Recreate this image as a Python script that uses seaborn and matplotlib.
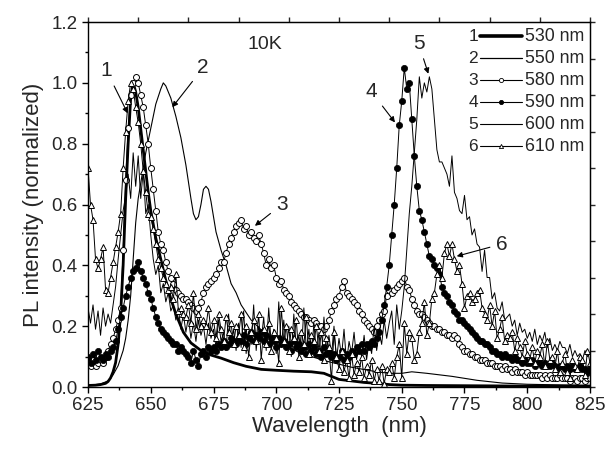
import numpy as np
import pandas as pd
import matplotlib
matplotlib.use("Agg")
import matplotlib.pyplot as plt
import seaborn as sns
from matplotlib.lines import Line2D

sns.set_style("ticks")
plt.rcParams["font.family"] = ["Liberation Sans", "DejaVu Sans"]

# ---------------- data ----------------
# smooth curves (own wavelength samples)
WL1 = [625, 628, 630, 631, 632, 633, 634, 635, 636, 637, 638, 639, 640, 641, 642, 643, 644,
       645, 646, 647, 648, 649, 650, 652, 654, 656, 658, 660, 663, 666, 670, 674, 678, 683,
       688, 694, 700, 707, 714, 719, 722, 725, 730, 735, 740, 745, 750, 760, 780, 800, 825]
V1 = [0.005, 0.006, 0.008, 0.01, 0.012, 0.018, 0.03, 0.05, 0.08, 0.14, 0.24, 0.40, 0.62, 0.80,
      0.95, 1.00, 0.97, 0.92, 0.85, 0.78, 0.71, 0.64, 0.58, 0.49, 0.42, 0.35, 0.29, 0.24, 0.18,
      0.145, 0.12, 0.105, 0.095, 0.08, 0.068, 0.058, 0.055, 0.052, 0.05, 0.045, 0.035, 0.025,
      0.02, 0.015, 0.012, 0.008, 0.006, 0.005, 0.004, 0.003, 0.003]

WL2 = [625, 630, 633, 635, 637, 639, 640, 641, 642, 643, 644, 645, 646, 648, 650, 652, 654, 655,
       656, 658, 660, 662, 664, 666, 667, 668, 669, 670, 671, 672, 673, 674, 676, 678, 680, 682,
       684, 686, 690, 695, 700, 710, 720, 730, 740, 745, 750, 754, 760, 770, 780, 790, 800, 825]
V2 = [0.005, 0.01, 0.02, 0.04, 0.07, 0.12, 0.16, 0.22, 0.30, 0.42, 0.54, 0.62, 0.67, 0.77, 0.85,
      0.93, 0.98, 1.00, 0.99, 0.95, 0.89, 0.82, 0.73, 0.62, 0.57, 0.55, 0.56, 0.60, 0.65, 0.66,
      0.65, 0.61, 0.51, 0.45, 0.40, 0.34, 0.31, 0.27, 0.22, 0.18, 0.15, 0.11, 0.085, 0.065,
      0.05, 0.045, 0.045, 0.05, 0.045, 0.035, 0.022, 0.013, 0.009, 0.005]

# 1 nm sampled spectra, 625 ... 825 nm
WL = np.arange(625, 826)

V3 = [0.08, 0.07, 0.09, 0.07, 0.08, 0.09, 0.08, 0.10, 0.12, 0.14,
      0.16, 0.19, 0.22, 0.26, 0.45, 0.68, 0.85, 0.96, 1.00, 1.02,
      1.00, 0.96, 0.92, 0.86, 0.80, 0.72, 0.65, 0.58, 0.51, 0.47,
      0.45, 0.41, 0.38, 0.36, 0.34, 0.32, 0.31, 0.30, 0.29, 0.29,
      0.28, 0.27, 0.26, 0.25, 0.26, 0.28, 0.31, 0.33, 0.34, 0.35,
      0.36, 0.37, 0.39, 0.41, 0.41, 0.44, 0.47, 0.49, 0.51, 0.53,
      0.54, 0.55, 0.52, 0.53, 0.50, 0.51, 0.49, 0.48, 0.50, 0.47,
      0.44, 0.40, 0.42, 0.39, 0.40, 0.36, 0.34, 0.35, 0.32, 0.31,
      0.30, 0.28, 0.27, 0.26, 0.25, 0.24, 0.23, 0.23, 0.22, 0.21,
      0.22, 0.21, 0.20, 0.20, 0.19, 0.20, 0.22, 0.25, 0.27, 0.29,
      0.30, 0.33, 0.35, 0.31, 0.30, 0.29, 0.28, 0.27, 0.25, 0.24,
      0.22, 0.21, 0.20, 0.19, 0.18, 0.20, 0.22, 0.24, 0.25, 0.30,
      0.32, 0.31, 0.32, 0.33, 0.34, 0.35, 0.36, 0.33, 0.32, 0.29,
      0.27, 0.25, 0.24, 0.24, 0.23, 0.22, 0.21, 0.20, 0.20, 0.19,
      0.19, 0.18, 0.18, 0.17, 0.17, 0.16, 0.17, 0.16, 0.14, 0.13,
      0.12, 0.12, 0.11, 0.11, 0.10, 0.10, 0.09, 0.09, 0.09, 0.08,
      0.08, 0.08, 0.07, 0.07, 0.07, 0.06, 0.07, 0.06, 0.06, 0.05,
      0.06, 0.05, 0.05, 0.05, 0.04, 0.05, 0.04, 0.04, 0.04, 0.04,
      0.04, 0.03, 0.04, 0.03, 0.04, 0.03, 0.03, 0.03, 0.04, 0.03,
      0.03, 0.03, 0.02, 0.03, 0.03, 0.02, 0.03, 0.03, 0.02, 0.03,
      0.03]

V4 = [0.10, 0.08, 0.11, 0.09, 0.12, 0.10, 0.09, 0.11, 0.10, 0.12,
      0.13, 0.15, 0.19, 0.23, 0.26, 0.30, 0.33, 0.36, 0.38, 0.39,
      0.41, 0.38, 0.36, 0.34, 0.31, 0.29, 0.26, 0.23, 0.21, 0.19,
      0.18, 0.17, 0.16, 0.15, 0.14, 0.14, 0.12, 0.13, 0.12, 0.11,
      0.10, 0.08, 0.12, 0.09, 0.07, 0.11, 0.12, 0.10, 0.13, 0.12,
      0.13, 0.12, 0.14, 0.13, 0.15, 0.13, 0.14, 0.16, 0.15, 0.14,
      0.16, 0.15, 0.17, 0.14, 0.16, 0.18, 0.15, 0.17, 0.16, 0.18,
      0.15, 0.17, 0.14, 0.16, 0.15, 0.13, 0.16, 0.14, 0.15, 0.13,
      0.14, 0.12, 0.15, 0.13, 0.14, 0.12, 0.13, 0.11, 0.14, 0.12,
      0.13, 0.11, 0.12, 0.10, 0.13, 0.11, 0.12, 0.10, 0.11, 0.09,
      0.10, 0.12, 0.09, 0.11, 0.10, 0.12, 0.11, 0.13, 0.12, 0.14,
      0.12, 0.14, 0.13, 0.15, 0.14, 0.16, 0.18, 0.22, 0.27, 0.33,
      0.40, 0.50, 0.60, 0.72, 0.86, 0.94, 1.05, 0.98, 1.00, 0.88,
      0.76, 0.66, 0.58, 0.55, 0.51, 0.47, 0.43, 0.42, 0.40, 0.39,
      0.37, 0.33, 0.31, 0.30, 0.28, 0.27, 0.25, 0.24, 0.22, 0.22,
      0.21, 0.20, 0.19, 0.18, 0.17, 0.16, 0.15, 0.15, 0.14, 0.14,
      0.13, 0.12, 0.12, 0.11, 0.11, 0.10, 0.11, 0.10, 0.10, 0.09,
      0.10, 0.09, 0.09, 0.08, 0.09, 0.08, 0.08, 0.09, 0.07, 0.08,
      0.08, 0.07, 0.08, 0.07, 0.07, 0.08, 0.07, 0.06, 0.07, 0.07,
      0.06, 0.07, 0.06, 0.07, 0.06, 0.06, 0.07, 0.06, 0.06, 0.05,
      0.06]

V5 = [0.26, 0.21, 0.27, 0.19, 0.25, 0.17, 0.26, 0.20, 0.24, 0.21,
      0.27, 0.33, 0.42, 0.50, 0.58, 0.63, 0.70, 0.62, 0.77, 0.66,
      0.76, 0.62, 0.71, 0.57, 0.60, 0.50, 0.42, 0.37, 0.40, 0.31,
      0.34, 0.28, 0.31, 0.25, 0.27, 0.22, 0.26, 0.19, 0.24, 0.18,
      0.23, 0.16, 0.21, 0.15, 0.22, 0.17, 0.20, 0.14, 0.21, 0.16,
      0.19, 0.13, 0.22, 0.15, 0.18, 0.12, 0.24, 0.14, 0.19, 0.12,
      0.21, 0.13, 0.25, 0.11, 0.18, 0.14, 0.27, 0.12, 0.20, 0.15,
      0.23, 0.12, 0.26, 0.14, 0.19, 0.11, 0.28, 0.13, 0.22, 0.12,
      0.20, 0.10, 0.24, 0.13, 0.17, 0.11, 0.26, 0.12, 0.19, 0.10,
      0.21, 0.11, 0.18, 0.09, 0.23, 0.12, 0.17, 0.10, 0.20, 0.09,
      0.16, 0.10, 0.19, 0.08, 0.15, 0.11, 0.18, 0.09, 0.14, 0.10,
      0.17, 0.09, 0.15, 0.11, 0.20, 0.12, 0.18, 0.14, 0.22, 0.16,
      0.21, 0.25, 0.14, 0.27, 0.19, 0.25, 0.33, 0.45, 0.57, 0.66,
      0.77, 0.88, 1.02, 0.95, 1.00, 0.97, 1.02, 0.98, 0.88, 0.78,
      0.74, 0.74, 0.72, 0.70, 0.66, 0.76, 0.64, 0.62, 0.58, 0.57,
      0.63, 0.55, 0.56, 0.50, 0.52, 0.47, 0.46, 0.38, 0.45, 0.36,
      0.36, 0.29, 0.31, 0.26, 0.25, 0.28, 0.22, 0.23, 0.24, 0.20,
      0.22, 0.17, 0.21, 0.18, 0.19, 0.16, 0.18, 0.15, 0.19, 0.14,
      0.17, 0.15, 0.18, 0.13, 0.16, 0.12, 0.14, 0.12, 0.15, 0.13,
      0.13, 0.11, 0.14, 0.10, 0.12, 0.10, 0.11, 0.09, 0.12, 0.10,
      0.11]

V6 = [0.72, 0.60, 0.55, 0.42, 0.39, 0.42, 0.46, 0.32, 0.31, 0.36,
      0.41, 0.46, 0.51, 0.57, 0.72, 0.84, 0.94, 1.00, 0.98, 0.92,
      0.87, 0.80, 0.71, 0.64, 0.57, 0.56, 0.52, 0.47, 0.42, 0.39,
      0.36, 0.34, 0.32, 0.33, 0.29, 0.37, 0.25, 0.26, 0.24, 0.23,
      0.27, 0.21, 0.31, 0.19, 0.24, 0.20, 0.22, 0.20, 0.26, 0.18,
      0.22, 0.16, 0.24, 0.19, 0.15, 0.23, 0.18, 0.21, 0.14, 0.20,
      0.17, 0.24, 0.13, 0.20, 0.10, 0.18, 0.22, 0.15, 0.24, 0.09,
      0.19, 0.14, 0.21, 0.12, 0.18, 0.16, 0.08, 0.26, 0.15, 0.20,
      0.12, 0.19, 0.16, 0.22, 0.10, 0.18, 0.14, 0.23, 0.11, 0.17,
      0.15, 0.20, 0.12, 0.18, 0.09, 0.16, 0.13, 0.02, 0.18, 0.10,
      0.06, 0.12, 0.05, 0.09, 0.03, 0.11, 0.04, 0.08, 0.05, 0.10,
      0.03, 0.07, 0.04, 0.09, 0.02, 0.06, 0.02, 0.07, 0.01, 0.06,
      0.05, 0.08, 0.03, 0.10, 0.14, 0.03, 0.21, 0.11, 0.18, 0.16,
      0.09, 0.11, 0.18, 0.21, 0.28, 0.17, 0.21, 0.29, 0.31, 0.37,
      0.40, 0.36, 0.44, 0.47, 0.43, 0.47, 0.42, 0.38, 0.40, 0.34,
      0.26, 0.30, 0.31, 0.28, 0.29, 0.31, 0.32, 0.26, 0.24, 0.22,
      0.27, 0.20, 0.25, 0.16, 0.19, 0.23, 0.15, 0.17, 0.16, 0.18,
      0.12, 0.16, 0.13, 0.10, 0.15, 0.11, 0.09, 0.13, 0.08, 0.12,
      0.10, 0.14, 0.07, 0.15, 0.09, 0.10, 0.06, 0.12, 0.05, 0.08,
      0.11, 0.05, 0.03, 0.09, 0.07, 0.06, 0.10, 0.09, 0.04, 0.12,
      0.08]

LABELS = ["530 nm", "550 nm", "580 nm", "590 nm", "600 nm", "610 nm"]
NUMS = ["1", "2", "3", "4", "5", "6"]

for v in (V3, V4, V5, V6):
    assert len(v) == len(WL)

# ---------------- figure ----------------
fig = plt.figure(figsize=(6.09, 4.5), dpi=100)
ax = fig.add_axes([0.1445, 0.14, 0.8243, 0.811])

styles = [
    dict(x=WL1, y=V1, linewidth=2.0),
    dict(x=WL2, y=V2, linewidth=0.8),
    dict(x=WL, y=V3, linewidth=0.7, marker="o", markersize=4.3,
         markerfacecolor="white", markeredgecolor="k", markeredgewidth=0.7),
    dict(x=WL, y=V4, linewidth=0.7, marker="o", markersize=4.5,
         markerfacecolor="k", markeredgecolor="k", markeredgewidth=0.5),
    dict(x=WL, y=V5, linewidth=0.7),
    dict(x=WL, y=V6, linewidth=0.7, marker="^", markersize=4.3,
         markerfacecolor="white", markeredgecolor="k", markeredgewidth=0.7),
]
for st in styles:
    sns.lineplot(ax=ax, color="k", legend=False, sort=False, estimator=None, **st)

ax.set_xlim(625, 825)
ax.set_ylim(0, 1.2)
ax.set_xticks(np.arange(625, 826, 25))
ax.set_xticks(np.arange(625, 826, 12.5), minor=True)
ax.set_yticks(np.arange(0, 1.21, 0.2))
ax.set_yticks(np.arange(0, 1.21, 0.1), minor=True)
ax.set_yticklabels([f"{t:.1f}" for t in np.arange(0, 1.21, 0.2)])
ax.tick_params(axis="both", which="major", direction="out", length=4.5, width=1.0,
               labelsize=13.5, color="k", pad=3)
ax.tick_params(axis="both", which="minor", direction="out", length=2.5, width=1.0, color="k")
for sp in ax.spines.values():
    sp.set_linewidth(1.0)
    sp.set_color("k")
    sp.set_visible(True)

ax.set_xlabel("Wavelength  (nm)", fontsize=16, labelpad=1)
ax.set_ylabel("PL intensity (normalized)", fontsize=16, labelpad=5)

# top / right decorative tick axes
sec_x = ax.secondary_xaxis("top")
sec_x.set_xticks(np.arange(625, 826, 20))
sec_x.set_xticklabels([])
sec_x.tick_params(direction="out", length=3.5, width=1.0)
sec_y = ax.secondary_yaxis("right")
sec_y.set_yticks(np.linspace(0, 1.2, 11))
sec_y.set_yticklabels([])
sec_y.tick_params(direction="out", length=3.5, width=1.0)

# in-plot legend
leg_y = [0.9616, 0.9014, 0.8411, 0.7808, 0.7205, 0.6603]
for i, st in enumerate(styles):
    y = leg_y[i]
    ax.text(0.767, y, NUMS[i], transform=ax.transAxes, ha="center", va="center", fontsize=12.5)
    ax.add_line(Line2D([0.781, 0.865], [y, y], transform=ax.transAxes, color="k",
                       lw=st["linewidth"] + (0.6 if i == 0 else 0.1)))
    if "marker" in st:
        ax.add_line(Line2D([0.823], [y], transform=ax.transAxes, color="k", lw=0,
                           marker=st["marker"], markersize=3.0,
                           markerfacecolor=st["markerfacecolor"], markeredgecolor="k",
                           markeredgewidth=0.6))
    ax.text(0.871, y, LABELS[i], transform=ax.transAxes, ha="left", va="center", fontsize=12.8)

# annotations
ax.text(695.5, 1.125, "10K", ha="center", va="center", fontsize=14)
ann = [("1", (632.4, 1.04), (640.8, 0.90)),
       ("2", (670.9, 1.05), (658.6, 0.92)),
       ("3", (702.2, 0.60), (691.5, 0.53)),
       ("4", (738.0, 0.97), (747.3, 0.87)),
       ("5", (756.7, 1.13), (760.6, 1.03)),
       ("6", (789.8, 0.47), (771.9, 0.43))]
for t, xyt, xy in ann:
    ax.annotate(t, xy=xy, xytext=xyt, ha="center", va="center", fontsize=15,
                arrowprops=dict(arrowstyle="-|>", color="k", lw=0.8, mutation_scale=8,
                                shrinkA=2, shrinkB=0))

fig.savefig("out.png", dpi=100)
